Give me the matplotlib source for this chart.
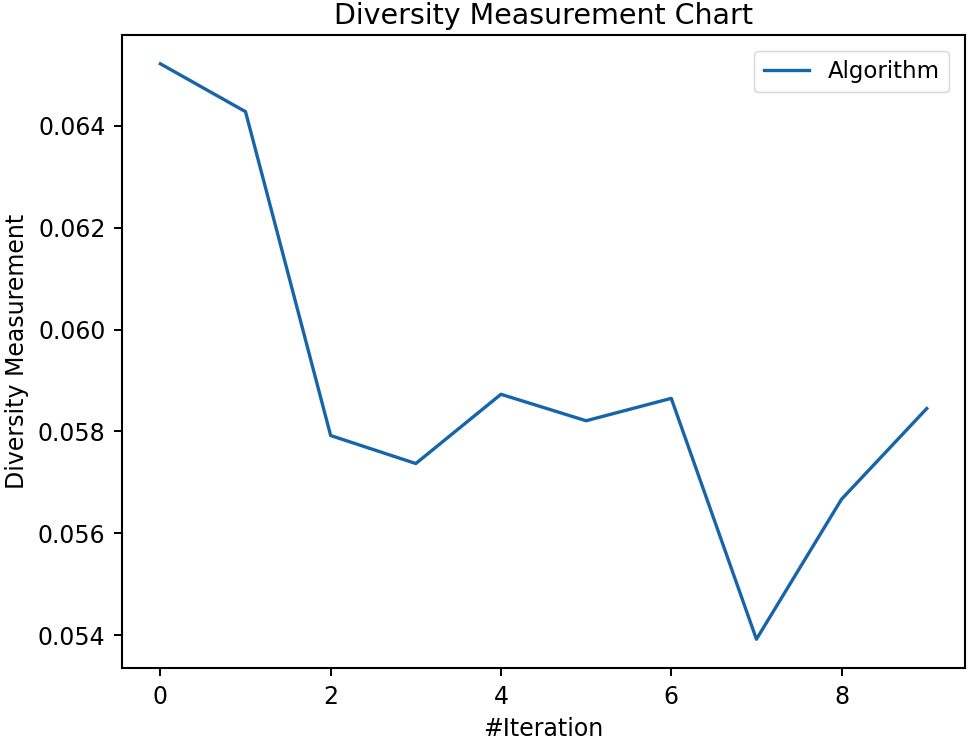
import numpy as np
import matplotlib.pyplot as plt

iterations = [0, 1, 2, 3, 4, 5, 6, 7, 8, 9]
diversity = [0.06522, 0.06428, 0.05792, 0.05737, 0.05873, 0.05821, 0.05865, 0.05392, 0.05667, 0.05845]

fig = plt.figure(figsize=(9.74, 7.39), dpi=100)
ax = fig.add_axes([0.1253, 0.0961, 0.8655, 0.8565])

ax.plot(iterations, diversity, color="#1665a9", linewidth=2.4, label="Algorithm")

ax.set_title("Diversity Measurement Chart", fontsize=20.5, pad=8)
ax.set_xlabel("#Iteration", fontsize=17, labelpad=6)
ax.set_ylabel("Diversity Measurement", fontsize=17, labelpad=6)
ax.set_yticks([0.054, 0.056, 0.058, 0.060, 0.062, 0.064])
ax.yaxis.set_major_formatter(plt.FormatStrFormatter("%.3f"))
ax.tick_params(labelsize=17, width=1.4, length=6, pad=6)
for s in ax.spines.values():
    s.set_linewidth(1.5)
ax.legend(loc="upper right", fontsize=16.5, borderaxespad=0.7)

fig.savefig("out.png", dpi=100)
